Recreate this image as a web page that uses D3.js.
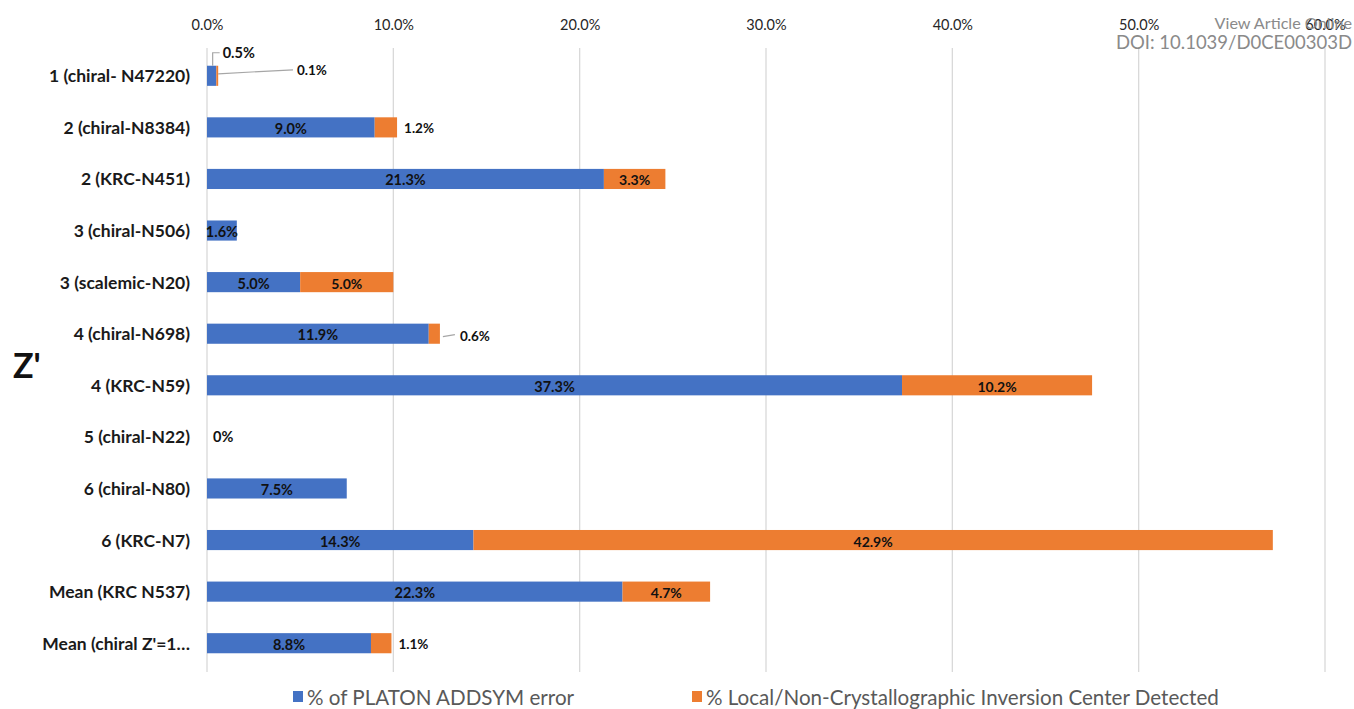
<!DOCTYPE html>
<html>
<head>
<meta charset="utf-8">
<script src="https://cdn.jsdelivr.net/npm/d3@7"></script>
<style>
  html, body { margin: 0; padding: 0; background: #fff; }
  svg { display: block; }
</style>
</head>
<body>
<svg id="chart" width="1354" height="709"></svg>
<script>
// ---- data ----
const categories = [
  "1 (chiral- N47220)", "2 (chiral-N8384)", "2 (KRC-N451)", "3 (chiral-N506)",
  "3 (scalemic-N20)", "4 (chiral-N698)", "4 (KRC-N59)", "5 (chiral-N22)",
  "6 (chiral-N80)", "6 (KRC-N7)", "Mean (KRC N537)", "Mean (chiral Z'=1\u2026"
];
const addsymError = [0.5, 9.0, 21.3, 1.6, 5.0, 11.9, 37.3, 0, 7.5, 14.3, 22.3, 8.8];
const inversionCenter = [0.1, 1.2, 3.3, 0, 5.0, 0.6, 10.2, 0, 0, 42.9, 4.7, 1.1];
const tickValues = [0, 10, 20, 30, 40, 50, 60];
const seriesNames = ["% of PLATON ADDSYM error", "% Local/Non-Crystallographic Inversion Center Detected"];
const seriesColors = ["#4472C4", "#ED7D31"];

// ---- drawing ----
const svg = d3.select("#chart");
const FONT = "Lato, 'Open Sans', sans-serif";

const x = d3.scaleLinear().domain([0, 60]).range([207, 1325]);
const y = d3.scaleBand().domain(categories).range([50, 669]).paddingInner(0.61).paddingOuter(0.305);

// gridlines
svg.append("g").selectAll("line").data(tickValues).join("line")
  .attr("x1", d => x(d)).attr("x2", d => x(d))
  .attr("y1", 48).attr("y2", 672)
  .attr("stroke", "#d9d9d9").attr("stroke-width", 1.3);

// top axis
const axis = d3.axisTop(x).tickValues(tickValues).tickFormat(d => d.toFixed(1) + "%").tickSize(0).tickPadding(0);
const gAxis = svg.append("g").attr("transform", "translate(0,30)").call(axis);
gAxis.select(".domain").remove();
gAxis.selectAll("text").attr("font-family", FONT).attr("font-size", 14.5).attr("fill", "#262626");

// category labels
svg.append("g").selectAll("text").data(categories).join("text")
  .attr("x", 190).attr("y", d => y(d) + y.bandwidth() / 2)
  .attr("text-anchor", "end").attr("dominant-baseline", "central")
  .attr("font-family", FONT).attr("font-weight", "bold").attr("font-size", 17.5)
  .attr("fill", "#1a1a1a").text(d => d);

// stacked bars
const rows = categories.map((c, i) => ({ c, i, a: addsymError[i], b: inversionCenter[i] }));
const gBars = svg.append("g");
gBars.selectAll("rect.a").data(rows).join("rect").attr("class", "a")
  .attr("x", d => x(0)).attr("y", d => y(d.c))
  .attr("width", d => x(d.a) - x(0)).attr("height", y.bandwidth())
  .attr("fill", seriesColors[0]);
gBars.selectAll("rect.b").data(rows).join("rect").attr("class", "b")
  .attr("x", d => x(d.a)).attr("y", d => y(d.c))
  .attr("width", d => x(d.a + d.b) - x(d.a)).attr("height", y.bandwidth())
  .attr("fill", seriesColors[1]);

// data labels
const gLab = svg.append("g").attr("font-family", FONT).attr("font-weight", "bold").attr("fill", "#111");
const fmt = v => v === 0 ? "0%" : v.toFixed(1) + "%";
function label(xp, yp, txt, anchor, size) {
  gLab.append("text").attr("x", xp).attr("y", yp).attr("text-anchor", anchor)
    .attr("dominant-baseline", "central").attr("font-size", size).text(txt);
}
function leader(points) {
  gLab.append("polyline").attr("points", points.map(p => p.join(",")).join(" "))
    .attr("fill", "none").attr("stroke", "#a6a6a6").attr("stroke-width", 1.2);
}
rows.forEach(d => {
  const cy = y(d.c) + y.bandwidth() / 2;
  const top = y(d.c);
  const end = x(d.a + d.b);
  // blue series
  if (d.i === 0) {
    leader([[x(d.a / 2) + 1, top], [x(d.a / 2) + 1, top - 13], [x(d.a / 2) + 8, top - 13]]);
    label(x(d.a / 2) + 11, top - 13, fmt(d.a), "start", 14.5);
  } else if (d.a === 0) {
    label(x(0) + 6, cy, fmt(d.a), "start", 14.5);
  } else {
    label((x(0) + x(d.a)) / 2, cy + 1, fmt(d.a), "middle", 14.5);
  }
  // orange series
  if (d.b > 0) {
    const w = x(d.a + d.b) - x(d.a);
    if (d.i === 0) {
      leader([[end, cy - 2], [293, cy - 6]]);
      label(297, cy - 6, fmt(d.b), "start", 13.5);
    } else if (d.i === 5) {
      leader([[end + 3, cy + 3], [end + 15, cy + 1]]);
      label(end + 20, cy + 2, fmt(d.b), "start", 13.5);
    } else if (w < 30) {
      label(end + 7, cy + 1, fmt(d.b), "start", 13.5);
    } else {
      label((x(d.a) + end) / 2, cy + 1, fmt(d.b), "middle", 14);
    }
  }
});

// Z' axis title
svg.append("text").attr("x", 13).attr("y", 364).attr("dominant-baseline", "central")
  .attr("font-family", FONT).attr("font-weight", "bold").attr("font-size", 34).attr("fill", "#111").text("Z'");

// legend
const legX = [293, 692];
const gLeg = svg.append("g");
seriesNames.forEach((n, i) => {
  gLeg.append("rect").attr("x", legX[i]).attr("y", 691).attr("width", 10).attr("height", 11).attr("fill", seriesColors[i]);
  gLeg.append("text").attr("x", legX[i] + 14).attr("y", 697).attr("dominant-baseline", "central")
    .attr("font-family", FONT).attr("font-size", 20.6).attr("fill", "#595959").text(n);
});

// watermark
svg.append("text").attr("x", 1352).attr("y", 29).attr("text-anchor", "end")
  .attr("font-family", FONT).attr("font-size", 16.2).attr("fill", "#8a8a8a").text("View Article Online");
svg.append("text").attr("x", 1352).attr("y", 49).attr("text-anchor", "end")
  .attr("font-family", FONT).attr("font-size", 18.5).attr("fill", "#8a8a8a").text("DOI: 10.1039/D0CE00303D");
</script>
</body>
</html>
